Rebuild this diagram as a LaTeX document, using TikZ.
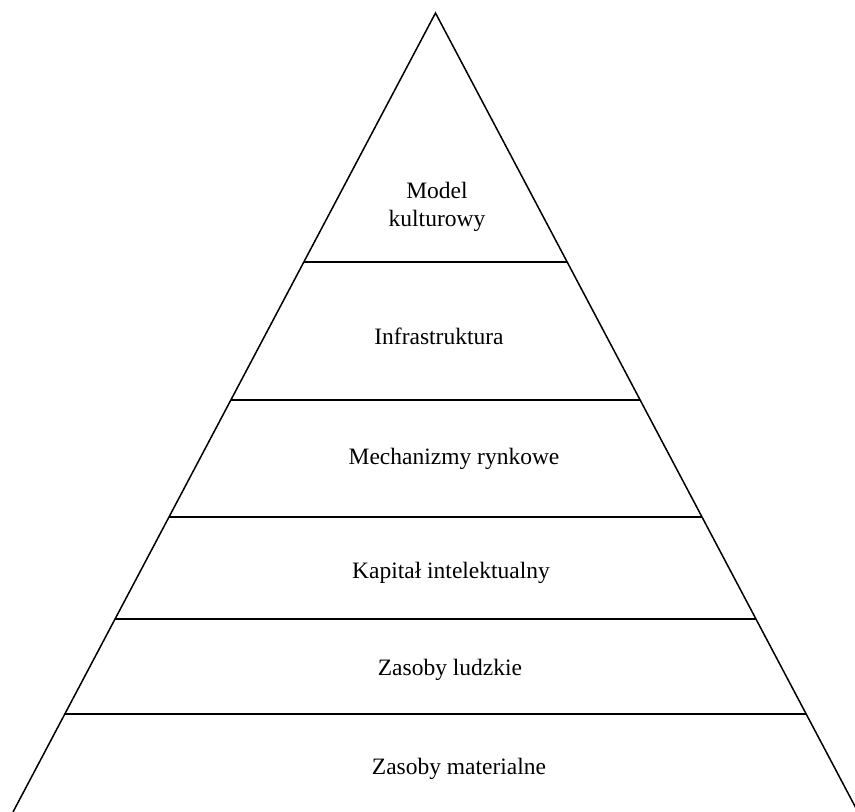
\documentclass[tikz,border=0pt]{standalone}
\usepackage{fontspec}
\setmainfont{Liberation Serif}
\usetikzlibrary{calc}

\tikzset{
  lbl/.style={font=\fontsize{23.5}{28}\selectfont, align=center, inner sep=0pt}
}

\begin{document}
\begin{tikzpicture}[x=1pt, y=-1pt, line width=1.5pt]
  \useasboundingbox (0,0) rectangle (855,812);
  % Outline of the pyramid
  \coordinate (top) at (435.5,13);
  \coordinate (bl) at (13,812);
  \coordinate (br) at (858,812);
  \draw (bl) -- (top) -- (br);
  % Lines between the levels
  \foreach \t [count=\i] in {0.3116,0.4844,0.6308,0.7584,0.8773} {
    \coordinate (l\i) at ($(top)!\t!(bl)$);
    \coordinate (r\i) at ($(top)!\t!(br)$);
    \draw (l\i) -- (r\i);
  }
  % Level names
  \node[lbl] (model) at (437,207) {Model\\kulturowy};
  \node[lbl, anchor=base] (infra) at (439,344) {Infrastruktura};
  \node[lbl, anchor=base] (mech) at (454,464) {Mechanizmy rynkowe};
  \node[lbl, anchor=base] (kap) at (451,578) {Kapitał intelektualny};
  \node[lbl, anchor=base] (ludz) at (450,675) {Zasoby ludzkie};
  \node[lbl, anchor=base] (mat) at (459,774) {Zasoby materialne};
\end{tikzpicture}
\end{document}
